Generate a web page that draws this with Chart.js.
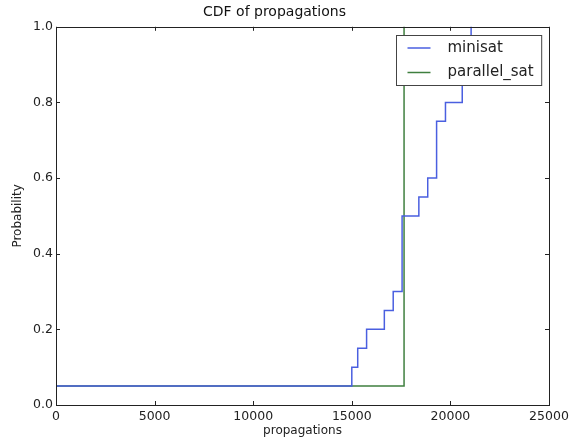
<!DOCTYPE html>
<html>
<head>
<meta charset="utf-8">
<script src="https://cdn.jsdelivr.net/npm/chart.js@4"></script>
<style>
  html, body { margin: 0; padding: 0; background: #fff; }
</style>
</head>
<body>
<canvas id="cdf" width="570" height="439"></canvas>
<script>
// CDF data
const minisatX = [0, 15000, 15300, 15750, 16650, 17100, 17550, 18400, 18850, 19300, 19750, 20600, 21050];
const minisatY = [0.05, 0.10, 0.15, 0.20, 0.25, 0.30, 0.50, 0.55, 0.60, 0.75, 0.80, 0.90, 1.0];
const parallelX = [0, 17650];
const parallelY = [0.05, 1.0];
const xTicks = [0, 5000, 10000, 15000, 20000, 25000];
const yTicks = [0, 0.2, 0.4, 0.6, 0.8, 1.0];

const FONT = "'DejaVu Sans', sans-serif";
const INK = "#222";

const toPoints = (xs, ys) => xs.map((x, i) => ({ x: x, y: ys[i] }));

// frame on all four sides + inward ticks (matplotlib look)
const frameTicks = {
  id: "frameTicks",
  afterDatasetsDraw(chart) {
    const { ctx, chartArea: a, scales } = chart;
    ctx.save();
    ctx.strokeStyle = INK;
    ctx.lineWidth = 1;
    ctx.beginPath();
    scales.x.ticks.forEach(t => {
      const px = Math.round(scales.x.getPixelForValue(t.value)) + 0.5;
      ctx.moveTo(px, a.bottom); ctx.lineTo(px, a.bottom - 4);
      ctx.moveTo(px, a.top); ctx.lineTo(px, a.top + 4);
    });
    scales.y.ticks.forEach(t => {
      const py = Math.round(scales.y.getPixelForValue(t.value)) + 0.5;
      ctx.moveTo(a.left, py); ctx.lineTo(a.left + 4, py);
      ctx.moveTo(a.right, py); ctx.lineTo(a.right - 4, py);
    });
    ctx.stroke();
    ctx.strokeRect(Math.round(a.left) + 0.5, Math.round(a.top) + 0.5,
      Math.round(a.right - a.left), Math.round(a.bottom - a.top));
    ctx.restore();
  }
};

// boxed legend inside the plot, top right
const boxLegend = {
  id: "boxLegend",
  afterDatasetsDraw(chart) {
    const { ctx, chartArea: a } = chart;
    ctx.save();
    ctx.font = "15px " + FONT;
    ctx.textAlign = "left";
    ctx.textBaseline = "middle";
    const sets = chart.data.datasets;
    const textW = Math.max(...sets.map(d => ctx.measureText(d.label).width));
    const w = 11 + 23 + 17 + textW + 8;
    const h = 50;
    const x0 = Math.round(a.right - 8 - w) + 0.5;
    const y0 = Math.round(a.top + 8) + 0.5;
    ctx.fillStyle = "#fff";
    ctx.fillRect(x0, y0, w, h);
    ctx.strokeStyle = "#444";
    ctx.lineWidth = 1;
    ctx.strokeRect(x0, y0, w, h);
    sets.forEach((d, i) => {
      const y = y0 + 12.5 + i * 24.5;
      ctx.strokeStyle = d.borderColor;
      ctx.lineWidth = 1.5;
      ctx.beginPath();
      ctx.moveTo(x0 + 11, y);
      ctx.lineTo(x0 + 34, y);
      ctx.stroke();
      ctx.fillStyle = INK;
      ctx.fillText(d.label, x0 + 51, y);
    });
    ctx.restore();
  }
};

const cdfChart = new Chart(document.getElementById("cdf").getContext("2d"), {
  type: "line",
  data: {
    datasets: [
      {
        label: "minisat",
        data: toPoints(minisatX, minisatY),
        borderColor: "#4a5fe0",
        borderWidth: 1.5,
        stepped: "before",
        pointRadius: 0,
        fill: false,
        clip: 2
      },
      {
        label: "parallel_sat",
        data: toPoints(parallelX, parallelY),
        borderColor: "#3f7f3f",
        borderWidth: 1.5,
        stepped: "before",
        pointRadius: 0,
        fill: false,
        clip: 2
      }
    ]
  },
  options: {
    responsive: false,
    animation: false,
    layout: { padding: { left: 0, right: 21, top: 0, bottom: 0 } },
    plugins: {
      legend: { display: false },
      tooltip: { enabled: false },
      title: {
        display: true,
        text: "CDF of propagations",
        color: "#111",
        font: { family: FONT, size: 14, weight: "normal" },
        padding: { top: 4, bottom: 6 }
      }
    },
    scales: {
      x: {
        type: "linear",
        min: 0,
        max: 25000,
        afterBuildTicks: s => { s.ticks = xTicks.map(v => ({ value: v })); },
        afterFit: s => { s.height = 34; s.paddingLeft = 0; s.paddingRight = 0; },
        grid: { display: false, drawTicks: false },
        border: { display: false },
        ticks: {
          color: INK,
          padding: 4,
          maxRotation: 0,
          font: { family: FONT, size: 12.5 },
          callback: v => String(v)
        },
        title: {
          display: true,
          text: "propagations",
          color: INK,
          font: { family: FONT, size: 12 },
          padding: { top: 0, bottom: 1 }
        }
      },
      y: {
        type: "linear",
        min: 0,
        max: 1,
        afterBuildTicks: s => { s.ticks = yTicks.map(v => ({ value: v })); },
        afterFit: s => { s.width = 56; s.paddingTop = 0; s.paddingBottom = 0; },
        grid: { display: false, drawTicks: false },
        border: { display: false },
        ticks: {
          color: INK,
          padding: 3,
          font: { family: FONT, size: 12.5 },
          callback: v => v.toFixed(1)
        },
        title: {
          display: true,
          text: "Probability",
          color: INK,
          font: { family: FONT, size: 12 },
          padding: { top: 11, bottom: 0 }
        }
      }
    }
  },
  plugins: [frameTicks, boxLegend]
});
</script>
</body>
</html>
